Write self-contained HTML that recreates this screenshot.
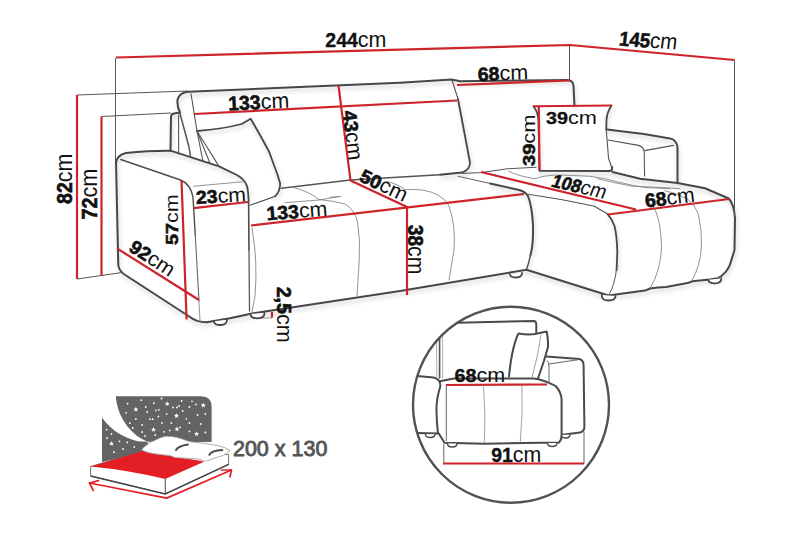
<!DOCTYPE html>
<html><head><meta charset="utf-8">
<style>
html,body{margin:0;padding:0;background:#fff;width:800px;height:533px;overflow:hidden}
svg{display:block}
text{font-family:"Liberation Sans",sans-serif}
.b{font-weight:bold}
</style></head><body>
<svg width="800" height="533" viewBox="0 0 800 533">
<defs>
<filter id="sh" x="-10%" y="-10%" width="120%" height="130%">
<feGaussianBlur in="SourceAlpha" stdDeviation="2"/>
<feOffset dx="1" dy="3" result="o"/>
<feComponentTransfer><feFuncA type="linear" slope="0.2"/></feComponentTransfer>
<feMerge><feMergeNode/><feMergeNode in="SourceGraphic"/></feMerge>
</filter>
<clipPath id="cc"><circle cx="511" cy="404.7" r="98"/></clipPath>
</defs>
<!-- SOFA main -->
<g fill="none" stroke-linecap="round" stroke-linejoin="round">
<g stroke="#474747" stroke-width="2" filter="url(#sh)">
<path d="M574.5,106 L573.5,86 Q573,80 567,80 L460,81.25 L451.75,79.6 L400,82.7 L188.5,91.8 Q179,92.5 177.5,100 Q177,107 180,112.5 L174,113.5 Q171,114 171,117 L170.5,150.7"/>
<path d="M116,163 Q117,155 126,153 Q150,150.5 170.5,150.7"/>
<path d="M116,161 L118.3,265 Q119,271.5 126,275.5 L190,317 Q196,322 206.6,322.3 L230,318.2 L252,313.4 L400,291 L526.5,269.75 L608.5,295.5 L645,290.6 Q648,289.5 650,288.5 Q658,287 666.25,286.9 L687.5,283.1 L692.5,281.25 L710,279.4 L718,278.2 Q726,274 729.9,264.9 Q732,258 734.5,250 L735,218 Q734,204 728.75,198.5 L705,188.25 L677.5,183 L640,178.75 L612.5,172"/>
<path d="M170.5,150.7 L219,166.4 L236.9,175 Q244.75,179.5 247,186 Q248.1,190 248.6,200" stroke-width="1.8"/>
<path d="M197,131 Q223,129 241.7,124 L250.7,118.8 L260,135 L269,151.5 L277.7,175.3 L280.2,183.8 Q280,192 275,196.4" stroke-width="1.8"/>
<path d="M458,99 L470,162.5 Q470,170 462,172.5 L440,174.75" stroke-width="1.8"/>
<path d="M490,183.5 L518,189.75 Q525.5,191.5 528,196 Q532,206 533,225 Q533.5,245 530.5,255"/>
<path d="M530.5,255 Q528.5,264 526.5,269.75" stroke-width="1.3"/>
<path d="M607.8,214.4 Q612,219 614.5,226 Q617,236 617.3,252.5 L616.6,270" stroke-width="1.8"/>
<path d="M533.5,106.2 Q538,112 538.5,120 L539.5,170.75 L610,171 Q612.5,170.5 612.25,167" stroke-width="1.8"/>
<path d="M611.5,105.5 Q607,112 606.5,120 L606.25,129.5" stroke-width="1.8"/>
<path d="M607,129.6 L643.75,134 L670,138.4 Q677,140 677.5,148 L677.5,183"/>
</g>
<g stroke="#4d4d4d" stroke-width="1.4">
<path d="M248.6,200 L249,250" stroke-width="1.6"/>
<path d="M249,250 L249.5,311" stroke="#5a5a5a" stroke-width="1.3"/>
<path d="M120.7,159.5 L180.6,180 Q190.75,184 193,197.5 L195.25,235"/>
<path d="M195.25,235 L199,301" stroke="#666" stroke-width="1.1"/>
<path d="M199,301 L200,321" stroke="#888" stroke-width="0.9"/>
</g>
<!-- medium lines -->
<g stroke="#555" stroke-width="1.1">
<path d="M180,113.5 L189,147 L190.5,157" stroke-width="1.5"/>
<path d="M178.6,115 L178.6,153.9"/>
<path d="M191,93.8 L197,131"/>
<path d="M197,131 L202.7,160"/>
<path d="M197,131 L210,163.3"/>
<path d="M197,131 L219,166.4"/>
<path d="M281.5,188.2 L350.25,180 L440,174.75" stroke-width="1.4"/>
<path d="M458,176.25 L490,183.5" stroke="#666" stroke-width="1"/>
<path d="M275,196.4 L250,205.2" stroke-width="1.2"/>
<path d="M452,80 L458,99"/>
<path d="M462,173.5 L482,172.5 L507.5,168.75 L536,167.25"/>
<path d="M528.5,194.25 L561,199.5 L593.75,206 L607.8,214"/>
<path d="M607.9,140 L638.5,145.4 Q643.75,147 644.2,152 L644.6,176"/>
<path d="M644.6,150.6 L673.5,145.4"/>
<path d="M606.25,129.5 L608.5,158 L612.25,169.25"/>
</g>
<!-- thin lines -->
<g stroke="#777" stroke-width="0.8">
<path d="M193.6,186.25 L243,181.75"/>
<path d="M252,228 Q258,262 255,296 L252,312"/>
<path d="M285,202.7 L319,200 L340,196.4"/>
<path d="M294,187.6 Q310,192 319,199.5 Q335,201 345,204 Q355,210 357.5,222 Q360.5,240 359.25,260 L357,296"/>
<path d="M387,181.5 Q398,184 405,189.75 Q425,188 438,195 Q446,200 448.5,204.75 Q456,225 454,250 L449,280"/>
<path d="M330,197.25 L340.5,196.5"/>
<path d="M508.75,171.25 Q518,176 535,178.75 Q545,175 560,175 L590,176.25 Q605,178 620,182.5 Q635,186 645,187.5 L670,188.75"/>
<path d="M597.5,178.75 Q615,183 632.5,186.25 L662.5,187.5 L680,188.75"/>
<path d="M645.7,201 Q653,204 656,212 Q661,225 661.5,247 Q661,270 650,288.5"/>
<path d="M616.6,268 Q615,285 608.5,295.5" stroke="#555" stroke-width="1"/>
<path d="M664.9,190.7 Q677,193 687.4,199.1 Q695,205 698.5,215 Q702,230 701.5,245 Q701,265 691.5,281.5"/>
<path d="M261.7,318 L271.6,318"/>
</g>
<!-- feet -->
<g stroke="#474747" stroke-width="1.8" fill="#fff">
<path d="M214,321.2 Q214,325 220.4,325 Q227,325 227,319.8"/>
<path d="M250.5,314 Q250.5,318.3 257.5,318.3 Q264.5,318.3 264.5,313"/>
<path d="M510,274.3 Q510,277.5 516,277.5 Q522,277.5 522,273"/>
<path d="M601.75,295 Q601.5,300.5 608.5,300.5 Q615.5,300.5 615.5,296"/>
<path d="M708.2,279.7 Q709,283.5 715.4,283.3 Q721.3,283 721.3,278.4"/>
</g>
</g>
<!-- INSET -->
<g clip-path="url(#cc)" fill="none" stroke-linecap="round" stroke-linejoin="round">
<g stroke="#4a4a4a" stroke-width="2">
<path d="M457.3,322.7 L533.8,321 Q536.3,321 536.3,325 L536.3,332.8"/>
<path d="M509,376.5 Q510.5,360 513.5,348 Q516,338 518.5,333.5 Q528,335 535,334 L546.7,331.5 Q548.5,340 547.9,347.3 L544,360.7 L538,378.5"/>
<path d="M546.5,356.5 L579.4,359 Q583.6,360 583.6,366 L584.4,427.2 Q584,432 580,432.5 L562.4,434.8"/>
<path d="M416.75,375.9 L433.6,377.6 Q440.4,379 440.4,386 Q436,400 436.5,412 Q437,425 437.9,432.2 L444.6,442.7 L484.3,443.7 L559,442.4 Q561.6,440 561.6,435.6 L561.6,400 Q561.65,392.8 555.7,386 Q545,380 533.8,378.4 L454,378.4 L441,381"/>
<path d="M416.75,433 L437.9,433.6"/>
</g>
<g stroke="#666" stroke-width="1">
<path d="M439.6,336 L439.6,378" stroke="#555" stroke-width="1.6"/>
<path d="M436.5,338 L436.8,377" stroke="#999" stroke-width="0.8"/>
<path d="M442.6,336 L442.6,378" stroke="#999" stroke-width="0.8"/>
<path d="M446.3,385 L446.3,440.7"/>
<path d="M547.3,360.7 Q549,362 549,366 L549,382.6"/>
<path d="M549,364 L577.7,359.8"/>
<path d="M443.8,444 L443.8,463.5"/>
<path d="M584,432 L584,463.5"/>
</g>
<g stroke="#888" stroke-width="0.8">
<path d="M483.5,386.9 Q486,415 484.3,443"/>
<path d="M521.9,384 Q523,415 520.2,442.4"/>

<path d="M541,335 Q538,356 532,377.5"/>
</g>
<g stroke="#4a4a4a" stroke-width="1.4" fill="#fff">
<path d="M425.5,434.5 Q425.5,437.5 430.3,437.5 Q435,437.5 435,434"/>
<path d="M447.5,443.5 Q447.5,447 452.2,447 Q457,447 457,443.5"/>
<path d="M547.5,443 Q547.5,446.5 552.3,446.5 Q557,446.5 557,443"/>
<path d="M561.5,435 Q561.5,438 565.8,438 Q570,438 570,434.5"/>
</g>
</g>
<!-- BED ICON -->
<g>
<path d="M115.7,396.2 L200.6,396.2 Q211.6,396.2 211.6,407 L211.6,442 L147.4,441.8 Q141.3,438.8 137,436 Q131.6,431.5 127,426 Q123,420.5 120,414 Q117.6,408.3 116.5,402 Z" fill="#646464"/>
<path d="M102,417.4 Q104.5,421 107.2,424.1 Q111,428 115.7,431.5 Q121,435 126.7,437.6 Q132,440 137.7,441.2 L147.4,441.8 L150,452 L102,462 Z" fill="#646464"/>
<g fill="#fff">
<path d="M135.90,406.90 L136.59,408.55 L138.37,408.70 L137.01,409.86 L137.43,411.60 L135.90,410.67 L134.37,411.60 L134.79,409.86 L133.43,408.70 L135.21,408.55Z"/>
<path d="M111.50,441.10 L112.19,442.75 L113.97,442.90 L112.61,444.06 L113.03,445.80 L111.50,444.87 L109.97,445.80 L110.39,444.06 L109.03,442.90 L110.81,442.75Z"/>
<path d="M153.50,427.10 L154.19,428.75 L155.97,428.90 L154.61,430.06 L155.03,431.80 L153.50,430.87 L151.97,431.80 L152.39,430.06 L151.03,428.90 L152.81,428.75Z"/>
<path d="M167.20,401.30 L167.89,402.95 L169.67,403.10 L168.31,404.26 L168.73,406.00 L167.20,405.07 L165.67,406.00 L166.09,404.26 L164.73,403.10 L166.51,402.95Z"/>
<path d="M203.30,402.70 L203.99,404.35 L205.77,404.50 L204.41,405.66 L204.83,407.40 L203.30,406.47 L201.77,407.40 L202.19,405.66 L200.83,404.50 L202.61,404.35Z"/>
<path d="M176.50,413.20 L177.19,414.85 L178.97,415.00 L177.61,416.16 L178.03,417.90 L176.50,416.97 L174.97,417.90 L175.39,416.16 L174.03,415.00 L175.81,414.85Z"/>
<path d="M177.00,426.60 L177.69,428.25 L179.47,428.40 L178.11,429.56 L178.53,431.30 L177.00,430.37 L175.47,431.30 L175.89,429.56 L174.53,428.40 L176.31,428.25Z"/>
<path d="M196.60,431.30 L197.29,432.95 L199.07,433.10 L197.71,434.26 L198.13,436.00 L196.60,435.07 L195.07,436.00 L195.49,434.26 L194.13,433.10 L195.91,432.95Z"/>
<circle cx="127.6" cy="403.7" r="0.9"/>
<circle cx="141.3" cy="400.2" r="0.9"/>
<circle cx="145.7" cy="407" r="0.9"/>
<circle cx="147.2" cy="412" r="0.9"/>
<circle cx="126.1" cy="412.8" r="0.9"/>
<circle cx="135.9" cy="419" r="0.9"/>
<circle cx="149.9" cy="419.2" r="0.9"/>
<circle cx="129.8" cy="423.2" r="0.9"/>
<circle cx="142.1" cy="425" r="0.9"/>
<circle cx="132.8" cy="428" r="0.9"/>
<circle cx="142.1" cy="432" r="0.9"/>
<circle cx="145" cy="436" r="0.9"/>
<circle cx="106.7" cy="429.6" r="0.9"/>
<circle cx="111.5" cy="434" r="0.9"/>
<circle cx="107" cy="438" r="0.9"/>
<circle cx="119.4" cy="441.3" r="0.9"/>
<circle cx="127.2" cy="442.4" r="0.9"/>
<circle cx="123" cy="449" r="0.9"/>
<circle cx="134.3" cy="447" r="0.9"/>
<circle cx="114" cy="452.2" r="0.9"/>
<circle cx="161.5" cy="398.5" r="0.9"/>
<circle cx="181.6" cy="401" r="0.9"/>
<circle cx="192" cy="401.3" r="0.9"/>
<circle cx="153.8" cy="403.2" r="0.9"/>
<circle cx="196" cy="404.4" r="0.9"/>
<circle cx="179" cy="406" r="0.9"/>
<circle cx="172.9" cy="407.5" r="0.9"/>
<circle cx="177" cy="407.5" r="0.9"/>
<circle cx="189.4" cy="407" r="0.9"/>
<circle cx="158.9" cy="409.8" r="0.9"/>
<circle cx="155.8" cy="410.3" r="0.9"/>
<circle cx="182.7" cy="411" r="0.9"/>
<circle cx="166.7" cy="413.8" r="0.9"/>
<circle cx="197.6" cy="415" r="0.9"/>
<circle cx="205.4" cy="414" r="0.9"/>
<circle cx="158.4" cy="416.5" r="0.9"/>
<circle cx="152.7" cy="419.2" r="0.9"/>
<circle cx="186.3" cy="418.8" r="0.9"/>
<circle cx="162" cy="423" r="0.9"/>
<circle cx="171.3" cy="423" r="0.9"/>
<circle cx="189.4" cy="423" r="0.9"/>
<circle cx="200.7" cy="424" r="0.9"/>
<circle cx="164.1" cy="431.8" r="0.9"/>
<circle cx="169.8" cy="430.4" r="0.9"/>
<circle cx="180.1" cy="427.3" r="0.9"/>
<circle cx="189.4" cy="431.3" r="0.9"/>
<circle cx="205.4" cy="432.5" r="0.9"/>
<circle cx="155.3" cy="435" r="0.9"/>
</g>
<!-- mattress -->
<path d="M90.6,466.5 L141.8,451.7 L228.6,454.5 L228.6,464.4 L165.3,494 L90.6,476 Z" fill="#fff" stroke="#666" stroke-width="0.9"/>
<path d="M90.6,466.5 L141.8,451.2 L154,453 L173.75,456.6 L182.2,458 L201.9,460.9 L204,461.8 L165.3,479 Q128,470 90.6,466.5 Z" fill="#e31e24"/>
<path d="M165.3,479 L165.3,494" stroke="#666" stroke-width="1.2"/>
<path d="M90.6,476 L165.3,494 L228.6,464.4" fill="none" stroke="#444" stroke-width="1.6"/>
<!-- pillow -->
<path d="M141.6,450 Q144,446.5 147.5,444.6 Q151,441.5 155.8,439.9 Q159,438 163,436.9 Q165,436 166.5,436.3 Q172,436.3 177.2,437.5 Q183,439 187.9,441.1 Q191,442 195,442.3 L204.5,443.4 L218.8,445.8 Q225,447 230,450.6 Q227,453.5 223.5,455.3 Q216,457.5 209.3,460 Q206.5,461.5 204.5,461.3 Q202.5,460.5 200.9,459.5 Q194,458.5 187.9,458.3 L176,457.7 Q173,457 171.3,455.9 Q166,455 161.8,454.7 Q155,454 149.9,452.9 Q145,451.8 141.6,450 Z" fill="#fff" stroke="#999" stroke-width="0.8"/>
<path d="M176,450 Q178.5,446 187.9,444.6" fill="none" stroke="#4a4a4a" stroke-width="2" stroke-linecap="round"/>
<path d="M209.3,454.7 Q212,450.5 222.3,450" fill="none" stroke="#4a4a4a" stroke-width="2" stroke-linecap="round"/>
<!-- arrows -->
<g fill="none" stroke="#e31e24" stroke-width="1.7" stroke-linecap="round" stroke-linejoin="round">
<path d="M231.4,470 L166.7,498.1 L89.5,483"/>
<path d="M98.5,480.6 L89.5,483 L93.2,490.4"/>
<path d="M221.6,470 L231.4,470 L230,477"/>
</g>
</g>
<!-- thin extension lines -->
<g fill="none" stroke="#555" stroke-width="1">
<path d="M115.5,58 V160"/>
<path d="M569.5,45 V80"/>
<path d="M734.5,60 V216"/>
<path d="M77,95 L188,91"/>
<path d="M101.5,116.5 L171,113"/>
<path d="M77,279 L122,272.5"/>
</g>
<!-- red dimension lines -->
<g fill="none" stroke="#cd2329" stroke-width="2.2" stroke-linecap="butt">
<path d="M116,57.5 L570,45 L734.5,60"/>
<path d="M77,95 V279"/>
<path d="M101.5,116.5 V276"/>
<path d="M194,114 L457,100.5"/>
<path d="M338.5,85.5 L350.5,180.6 L407,207 L407,295"/>
<path d="M251,225.5 L524,194"/>
<path d="M457,85 L570,80.5"/>
<path d="M533.5,106.25 L611.5,105.5"/>
<path d="M538.75,106 L539.5,170.5"/>
<path d="M481,172 L636,209.5"/>
<path d="M608,214.5 L729,199"/>
<path d="M193.6,208.2 L248.1,202"/>
<path d="M181.5,180 L186.6,319.5"/>
<path d="M117,248.4 L199,300"/>
<path d="M272,312 V317.6"/>
<path d="M446,385 L547,384.5"/>
<path d="M443,463.5 L584,463.5"/>
</g>
<!-- texts -->
<g>
<text transform="translate(325.30,47.30) rotate(0) skewX(0)" x="0" y="0" font-size="20.00" font-weight="normal" fill="#111" textLength="61.20" lengthAdjust="spacingAndGlyphs"><tspan font-weight="bold" stroke="#111" stroke-width="0.35">244</tspan><tspan font-size="22.00">cm</tspan></text>
<text transform="translate(618.45,45.50) rotate(4) skewX(-3)" x="0" y="0" font-size="20.30" font-weight="normal" fill="#111" textLength="58.22" lengthAdjust="spacingAndGlyphs"><tspan font-weight="bold" stroke="#111" stroke-width="0.6">145</tspan><tspan font-size="22.33">cm</tspan></text>
<text transform="translate(228.50,110.50) rotate(-2.5) skewX(0)" x="0" y="0" font-size="20.00" font-weight="normal" fill="#111" textLength="61.01" lengthAdjust="spacingAndGlyphs"><tspan font-weight="bold" stroke="#111" stroke-width="0.6">133</tspan><tspan font-size="22.00">cm</tspan></text>
<text transform="translate(478.00,81.00) rotate(-2) skewX(0)" x="0" y="0" font-size="19.00" font-weight="normal" fill="#111" textLength="50.40" lengthAdjust="spacingAndGlyphs"><tspan font-weight="bold" stroke="#111" stroke-width="0.6">68</tspan><tspan font-size="20.90">cm</tspan></text>
<text transform="translate(546.00,123.50) rotate(0) skewX(0)" x="0" y="0" font-size="17.30" font-weight="normal" fill="#111" textLength="51.00" lengthAdjust="spacingAndGlyphs"><tspan font-weight="bold" stroke="#111" stroke-width="0.35">39</tspan><tspan font-size="19.03">cm</tspan></text>
<text transform="translate(535.25,165.88) rotate(-90) skewX(0)" x="0" y="0" font-size="17.30" font-weight="normal" fill="#111" textLength="51.50" lengthAdjust="spacingAndGlyphs"><tspan font-weight="bold" stroke="#111" stroke-width="0.6">39</tspan><tspan font-size="19.03">cm</tspan></text>
<text transform="translate(72.25,203.93) rotate(-90) skewX(0)" x="0" y="0" font-size="21.30" font-weight="normal" fill="#111" textLength="50.30" lengthAdjust="spacingAndGlyphs"><tspan font-weight="bold" stroke="#111" stroke-width="0.6">82</tspan><tspan font-size="23.43">cm</tspan></text>
<text transform="translate(97.45,219.50) rotate(-90) skewX(0)" x="0" y="0" font-size="21.30" font-weight="normal" fill="#111" textLength="51.00" lengthAdjust="spacingAndGlyphs"><tspan font-weight="bold" stroke="#111" stroke-width="0.6">72</tspan><tspan font-size="23.43">cm</tspan></text>
<text transform="translate(177.50,244.90) rotate(-90) skewX(0)" x="0" y="0" font-size="17.20" font-weight="normal" fill="#111" textLength="50.80" lengthAdjust="spacingAndGlyphs"><tspan font-weight="bold" stroke="#111" stroke-width="0.6">57</tspan><tspan font-size="18.92">cm</tspan></text>
<text transform="translate(196.30,203.90) rotate(-3) skewX(0)" x="0" y="0" font-size="18.50" font-weight="normal" fill="#111" textLength="50.20" lengthAdjust="spacingAndGlyphs"><tspan font-weight="bold" stroke="#111" stroke-width="0.6">23</tspan><tspan font-size="20.35">cm</tspan></text>
<text transform="translate(267.00,220.30) rotate(-4.3) skewX(0)" x="0" y="0" font-size="19.00" font-weight="normal" fill="#111" textLength="61.03" lengthAdjust="spacingAndGlyphs"><tspan font-weight="bold" stroke="#111" stroke-width="0.6">133</tspan><tspan font-size="20.90">cm</tspan></text>
<text transform="translate(342.55,111.20) rotate(83) skewX(0)" x="0" y="0" font-size="19.60" font-weight="normal" fill="#111" textLength="50.20" lengthAdjust="spacingAndGlyphs"><tspan font-weight="bold" stroke="#111" stroke-width="0.6">43</tspan><tspan font-size="21.56">cm</tspan></text>
<text transform="translate(358.20,180.45) rotate(25.6) skewX(0)" x="0" y="0" font-size="19.00" font-weight="normal" fill="#111" textLength="50.44" lengthAdjust="spacingAndGlyphs"><tspan font-weight="bold" stroke="#111" stroke-width="0.6">50</tspan><tspan font-size="20.90">cm</tspan></text>
<text transform="translate(408.05,224.70) rotate(90) skewX(0)" x="0" y="0" font-size="21.30" font-weight="normal" fill="#111" textLength="49.60" lengthAdjust="spacingAndGlyphs"><tspan font-weight="bold" stroke="#111" stroke-width="0.6">38</tspan><tspan font-size="23.43">cm</tspan></text>
<text transform="translate(127.65,250.25) rotate(33) skewX(0)" x="0" y="0" font-size="19.00" font-weight="normal" fill="#111" textLength="49.76" lengthAdjust="spacingAndGlyphs"><tspan font-weight="bold" stroke="#111" stroke-width="0.6">92</tspan><tspan font-size="20.90">cm</tspan></text>
<text transform="translate(276.80,286.65) rotate(90) skewX(0)" x="0" y="0" font-size="19.70" font-weight="normal" fill="#111" textLength="56.00" lengthAdjust="spacingAndGlyphs"><tspan font-weight="bold" stroke="#111" stroke-width="0.6">2,5</tspan><tspan font-size="21.67">cm</tspan></text>
<text transform="translate(550.25,186.25) rotate(13.3) skewX(-8)" x="0" y="0" font-size="18.50" font-weight="normal" fill="#111" textLength="55.14" lengthAdjust="spacingAndGlyphs"><tspan font-weight="bold" stroke="#111" stroke-width="0.6">108</tspan><tspan font-size="20.35">cm</tspan></text>
<text transform="translate(645.75,207.50) rotate(-6.5) skewX(0)" x="0" y="0" font-size="19.40" font-weight="normal" fill="#111" textLength="50.00" lengthAdjust="spacingAndGlyphs"><tspan font-weight="bold" stroke="#111" stroke-width="0.6">68</tspan><tspan font-size="21.34">cm</tspan></text>
<text transform="translate(454.60,382.27) rotate(0) skewX(0)" x="0" y="0" font-size="18.60" font-weight="normal" fill="#111" textLength="50.60" lengthAdjust="spacingAndGlyphs"><tspan font-weight="bold" stroke="#111" stroke-width="0.35">68</tspan><tspan font-size="20.46">cm</tspan></text>
<text transform="translate(491.30,461.55) rotate(0) skewX(0)" x="0" y="0" font-size="19.30" font-weight="normal" fill="#111" textLength="50.00" lengthAdjust="spacingAndGlyphs"><tspan font-weight="bold" stroke="#111" stroke-width="0.35">91</tspan><tspan font-size="21.23">cm</tspan></text>
<text transform="translate(232.95,456.15) rotate(0) skewX(0)" x="0" y="0" font-size="22.00" font-weight="normal" fill="#555" textLength="94.40" lengthAdjust="spacingAndGlyphs"><tspan stroke="#555" stroke-width="0.9">200 x 130</tspan></text>
</g>
<!-- circle -->
<circle cx="511" cy="404.7" r="98" fill="none" stroke="#525252" stroke-width="2.4"/>
</svg>
</body></html>
